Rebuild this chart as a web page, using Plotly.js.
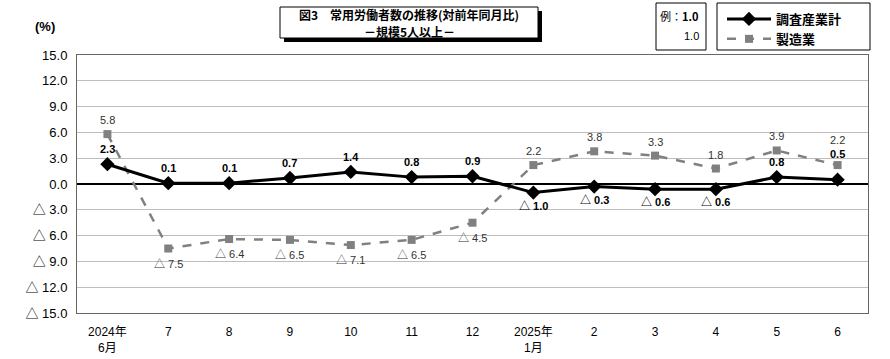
<!DOCTYPE html>
<html><head><meta charset="utf-8">
<script src="https://cdn.plot.ly/plotly-3.0.1.min.js"></script>
<style>body{margin:0;background:#fff}#c{width:890px;height:359px}</style>
</head><body><div id="c"></div>
<script>
const categories = ['2024年<br>6月','7','8','9','10','11','12','2025年<br>1月','2','3','4','5','6'];
const allIndustries = [2.3, 0.1, 0.1, 0.7, 1.4, 0.8, 0.9, -1.0, -0.3, -0.6, -0.6, 0.8, 0.5];
const manufacturing = [5.8, -7.5, -6.4, -6.5, -7.1, -6.5, -4.5, 2.2, 3.8, 3.3, 1.8, 3.9, 2.2];
const yTickVals = [15, 12, 9, 6, 3, 0, -3, -6, -9, -12, -15];
const yTickText = ['15.0','12.0','9.0','6.0','3.0','0.0','△ 3.0','△ 6.0','△ 9.0','△ 12.0','△ 15.0'];

const fmt = v => v < 0 ? '△ ' + Math.abs(v).toFixed(1) : v.toFixed(1);
const F = '"Liberation Sans Narrow", "Liberation Sans", Arial, "Noto Sans CJK JP", sans-serif';
const FJ = '"Noto Sans CJK JP", sans-serif';

const W = 890, H = 359;
const L = 77, R = 868, T = 55, B = 313;
// paper == whole canvas (zero margins); helpers convert pixel positions to paper fractions
const px = x => x / W;
const py = y => 1 - y / H;

const traces = [
  {
    x: categories, y: manufacturing, name: '製造業', type: 'scatter', mode: 'lines+markers',
    line: {color: '#808080', width: 2.5, dash: 'dash'},
    marker: {symbol: 'square', size: 8, color: '#808080'},
    legendrank: 2, cliponaxis: false
  },
  {
    x: categories, y: allIndustries, name: '調査産業計', type: 'scatter', mode: 'lines+markers',
    line: {color: '#000', width: 3},
    marker: {symbol: 'diamond', size: 11, color: '#000'},
    legendrank: 1, cliponaxis: false
  }
];

const labelAnns = [];
const lastIdx = categories.length - 1;
manufacturing.forEach((v, i) => {
  const up = v >= 0;
  labelAnns.push({x: i, y: v, xref: 'x', yref: 'y', text: fmt(v), showarrow: false,
    yshift: up ? (i === lastIdx ? 25 : 14) : -15,
    font: {family: F, size: 11, color: '#333'}, xanchor: 'center', yanchor: 'middle'});
});
allIndustries.forEach((v, i) => {
  const up = v >= 0;
  labelAnns.push({x: i, y: v, xref: 'x', yref: 'y', text: fmt(v), showarrow: false,
    yshift: up ? (i === lastIdx ? 26 : 15) : -13,
    font: {family: F, size: 11, color: '#000', weight: 'bold'}, xanchor: 'center', yanchor: 'middle'});
});

const layout = {
  width: W, height: H,
  margin: {l: 0, r: 0, t: 0, b: 0, autoexpand: false},
  paper_bgcolor: '#fff', plot_bgcolor: '#fff',
  showlegend: true,
  legend: {
    x: px(722), y: py(4), xanchor: 'left', yanchor: 'top',
    bgcolor: 'rgba(0,0,0,0)', borderwidth: 0,
    font: {family: FJ, size: 13, color: '#000', weight: 'bold'},
    traceorder: 'normal', tracegroupgap: 3, itemwidth: 44
  },
  xaxis: {
    domain: [px(L), px(R)],
    type: 'category', range: [-0.5, 12.5], showgrid: false, zeroline: false,
    showline: true, linecolor: '#666', linewidth: 1, mirror: true,
    ticks: '', ticklabelstandoff: 8, tickfont: {family: F, size: 12, color: '#000'}, automargin: false
  },
  yaxis: {
    domain: [py(B), py(T)],
    range: [-15, 15], tickvals: yTickVals, ticktext: yTickText,
    showgrid: true, gridcolor: '#bdbdbd', gridwidth: 1,
    zeroline: true, zerolinecolor: '#000', zerolinewidth: 1.5,
    showline: true, linecolor: '#666', linewidth: 1, mirror: true,
    ticks: '', ticklabelstandoff: 6, tickfont: {family: F, size: 13, color: '#000'}, automargin: false
  },
  shapes: [
    {type: 'rect', xref: 'paper', yref: 'paper', x0: px(284), x1: px(542), y0: py(42), y1: py(11), fillcolor: '#000', line: {width: 0}, layer: 'above'},
    {type: 'rect', xref: 'paper', yref: 'paper', x0: px(280), x1: px(538), y0: py(38), y1: py(7), fillcolor: '#fff', line: {color: '#000', width: 1}, layer: 'above'},
    {type: 'rect', xref: 'paper', yref: 'paper', x0: px(656), x1: px(706), y0: py(50), y1: py(3), fillcolor: '#fff', line: {color: '#000', width: 1}, layer: 'below'},
    {type: 'rect', xref: 'paper', yref: 'paper', x0: px(717), x1: px(870), y0: py(50), y1: py(3), fillcolor: '#fff', line: {color: '#000', width: 1}, layer: 'below'}
  ],
  annotations: labelAnns.concat([
    {xref: 'paper', yref: 'paper', x: px(409), y: py(14.5), text: '図3　常用労働者数の推移(対前年同月比)', showarrow: false,
     font: {family: FJ, size: 12, color: '#000', weight: 'bold'}, xanchor: 'center', yanchor: 'middle'},
    {xref: 'paper', yref: 'paper', x: px(409), y: py(31), text: '－規模5人以上－', showarrow: false,
     font: {family: FJ, size: 12, color: '#000', weight: 'bold'}, xanchor: 'center', yanchor: 'middle'},
    {xref: 'paper', yref: 'paper', x: px(701), y: py(16), text: '例：<b>1.0</b>', showarrow: false,
     font: {family: FJ, size: 11, color: '#000'}, xanchor: 'right', yanchor: 'middle'},
    {xref: 'paper', yref: 'paper', x: px(701), y: py(36), text: '1.0', showarrow: false,
     font: {family: F, size: 11, color: '#000'}, xanchor: 'right', yanchor: 'middle'},
    {xref: 'paper', yref: 'paper', x: px(45), y: py(27), text: '(%)', showarrow: false,
     font: {family: F, size: 13, color: '#000', weight: 'bold'}, xanchor: 'center', yanchor: 'middle'}
  ])
};

Plotly.newPlot('c', traces, layout, {displayModeBar: false, staticPlot: true});
</script></body></html>
